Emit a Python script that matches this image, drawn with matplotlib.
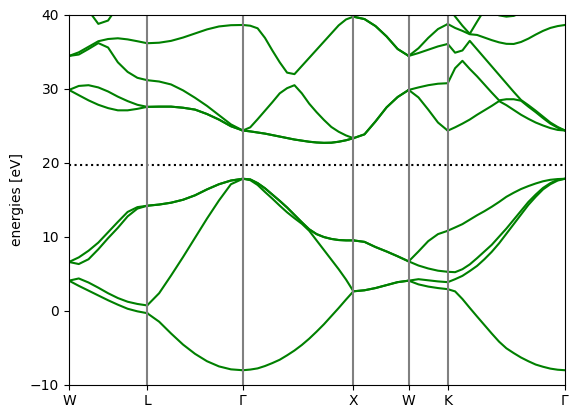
import numpy as np
import matplotlib.pyplot as plt

# high symmetry path W-L-G-X-W-K-G (fcc), segment lengths in 2pi/a
labels = ["W", "L", "Γ", "X", "W", "K", "Γ"]
seg_len = [np.sqrt(2) / 2, np.sqrt(3) / 2, 1.0, 0.5, np.sqrt(2) / 4, 3 * np.sqrt(2) / 4]
e_fermi = 19.75

# energies (eV) per segment, one row per band
bands_WL = [
    [4.05, 3.35, 2.7, 2.05, 1.4, 0.8, 0.25, -0.1, -0.35],
    [4.05, 4.35, 3.8, 3.1, 2.35, 1.7, 1.2, 0.9, 0.7],
    [6.58, 6.3, 6.95, 8.3, 9.8, 11.2, 12.75, 13.8, 14.19],
    [6.58, 7.2, 8.1, 9.2, 10.6, 12.0, 13.35, 14.0, 14.19],
    [29.86, 29.15, 28.45, 27.85, 27.4, 27.1, 27.1, 27.3, 27.57],
    [29.86, 30.4, 30.5, 30.2, 29.65, 28.95, 28.35, 27.85, 27.57],
    [34.46, 34.65, 35.4, 36.2, 35.6, 33.6, 32.3, 31.5, 31.18],
    [34.46, 34.95, 35.7, 36.45, 36.75, 36.85, 36.7, 36.45, 36.18],
    [42.5, 41.6, 40.6, 38.8, 39.25, 41.2, 42.0, 42.5, 42.8],
]

bands_LG = [
    [-0.35, -1.5, -3.1, -4.6, -5.85, -6.85, -7.55, -7.95, -8.07],
    [0.7, 2.35, 4.75, 7.25, 9.85, 12.45, 14.9, 17.1, 17.84],
    [14.19, 14.35, 14.6, 15.0, 15.6, 16.4, 17.1, 17.6, 17.84],
    [14.19, 14.35, 14.6, 15.0, 15.6, 16.4, 17.1, 17.6, 17.84],
    [27.57, 27.6, 27.6, 27.45, 27.2, 26.6, 25.85, 24.95, 24.37],
    [27.57, 27.6, 27.6, 27.45, 27.2, 26.6, 25.85, 24.95, 24.37],
    [31.18, 31.0, 30.6, 29.8, 28.8, 27.7, 26.45, 25.2, 24.37],
    [36.18, 36.25, 36.5, 36.95, 37.5, 38.05, 38.45, 38.62, 38.65],
]

bands_GX = [
    [-8.07, -7.98, -7.82, -7.5, -7.1, -6.65, -6.05, -5.4, -4.65, -3.8, -2.85, -1.85, -0.75, 0.35, 1.5, 2.61],
    [17.84, 17.65, 17.0, 16.05, 15.15, 14.2, 13.3, 12.5, 11.75, 10.8, 9.5, 8.2, 6.9, 5.6, 4.2, 2.61],
    [17.84, 17.75, 17.25, 16.55, 15.7, 14.85, 13.95, 12.95, 11.95, 11.0, 10.35, 9.95, 9.7, 9.55, 9.5, 9.5],
    [17.84, 17.75, 17.25, 16.55, 15.7, 14.85, 13.95, 12.95, 11.95, 11.0, 10.35, 9.95, 9.7, 9.55, 9.5, 9.5],
    [24.37, 24.25, 24.1, 23.95, 23.75, 23.55, 23.35, 23.15, 23.0, 22.85, 22.75, 22.7, 22.72, 22.85, 23.05, 23.33],
    [24.37, 24.25, 24.1, 23.95, 23.75, 23.55, 23.35, 23.15, 23.0, 22.85, 22.75, 22.7, 22.72, 22.85, 23.05, 23.33],
    [24.37, 24.8, 25.9, 27.05, 28.2, 29.4, 30.1, 30.5, 29.4, 28.0, 26.85, 25.8, 24.85, 24.2, 23.7, 23.33],
    [38.65, 38.55, 38.2, 36.9, 35.2, 33.6, 32.2, 32.0, 33.1, 34.2, 35.3, 36.4, 37.5, 38.6, 39.4, 39.77],
]

bands_XW = [
    [2.61, 2.75, 3.05, 3.45, 3.85, 4.05],
    [2.61, 2.75, 3.05, 3.45, 3.85, 4.05],
    [9.5, 9.3, 8.6, 8.0, 7.35, 6.66],
    [9.5, 9.3, 8.6, 8.0, 7.35, 6.66],
    [23.33, 23.85, 25.6, 27.5, 28.9, 29.86],
    [23.33, 23.85, 25.6, 27.5, 28.9, 29.86],
    [39.77, 39.45, 38.5, 37.1, 35.4, 34.46],
    [39.77, 39.45, 38.5, 37.1, 35.4, 34.46],
]

bands_WK = [
    [4.05, 3.55, 3.25, 3.05, 2.9],
    [4.05, 4.25, 4.1, 3.95, 3.85],
    [6.66, 6.1, 5.7, 5.4, 5.25],
    [6.66, 8.0, 9.4, 10.35, 10.8],
    [29.86, 28.85, 27.2, 25.45, 24.35],
    [29.86, 30.2, 30.5, 30.7, 30.77],
    [34.46, 34.85, 35.3, 35.75, 36.08],
    [34.46, 35.5, 36.9, 38.1, 38.78],
]

bands_KG = [
    [2.9, 2.6, 1.57, 0.37, -0.8, -1.95, -3.1, -4.2, -5.1, -5.75, -6.35, -6.85, -7.3, -7.6, -7.85, -8.0, -8.07],
    [3.85, 4.25, 4.7, 5.35, 6.05, 6.95, 7.95, 9.1, 10.4, 11.7, 13.0, 14.3, 15.4, 16.4, 17.1, 17.6, 17.84],
    [5.25, 5.2, 5.6, 6.25, 7.1, 8.0, 8.9, 10.0, 11.1, 12.3, 13.5, 14.7, 15.7, 16.6, 17.25, 17.7, 17.84],
    [10.81, 11.25, 11.7, 12.3, 12.9, 13.45, 14.05, 14.7, 15.4, 15.95, 16.45, 16.85, 17.2, 17.5, 17.7, 17.8, 17.84],
    [24.35, 24.8, 25.3, 25.85, 26.5, 27.1, 27.7, 28.35, 27.8, 27.15, 26.5, 25.95, 25.45, 25.05, 24.7, 24.45, 24.37],
    [30.77, 32.8, 33.8, 32.7, 31.7, 30.6, 29.5, 28.45, 28.6, 28.6, 28.4, 27.6, 26.85, 26.05, 25.3, 24.75, 24.37],
    [36.08, 34.9, 35.2, 36.5, 35.35, 34.2, 33.05, 31.9, 30.75, 29.6, 28.5, 27.8, 27.05, 26.25, 25.45, 24.85, 24.37],
    [38.78, 38.25, 37.85, 37.4, 37.3, 36.95, 36.6, 36.3, 36.1, 36.08, 36.35, 36.8, 37.35, 37.85, 38.25, 38.5, 38.65],
    [41.1, 39.8, 38.55, 37.45, 39.1, 40.7, 40.5, 39.95, 39.78, 39.88, 40.3, 41.0, 41.5, 41.9, 42.2, 42.4, 42.5],
]

segments = [bands_WL, bands_LG, bands_GX, bands_XW, bands_WK, bands_KG]
ticks = np.concatenate([[0.0], np.cumsum(seg_len)])

fig = plt.figure(figsize=(5.79, 4.18), dpi=100)
ax = fig.add_axes([69 / 579, 33.5 / 418, 496 / 579, 369.5 / 418])

for i, seg in enumerate(segments):
    e = np.array(seg)
    k = np.linspace(ticks[i], ticks[i + 1], e.shape[1])
    ax.plot(k, e.T, color="g")

ax.set_xticks(ticks)
ax.set_xticklabels(labels)
ax.set_xlim(ticks[0], ticks[-1])
ax.set_ylim(-10, 40)
ax.set_ylabel("energies [eV]")
ax.axhline(e_fermi, color="k", ls=":")
for x in ticks[1:-1]:
    ax.axvline(x, color="0.5")

fig.savefig("out.png")
